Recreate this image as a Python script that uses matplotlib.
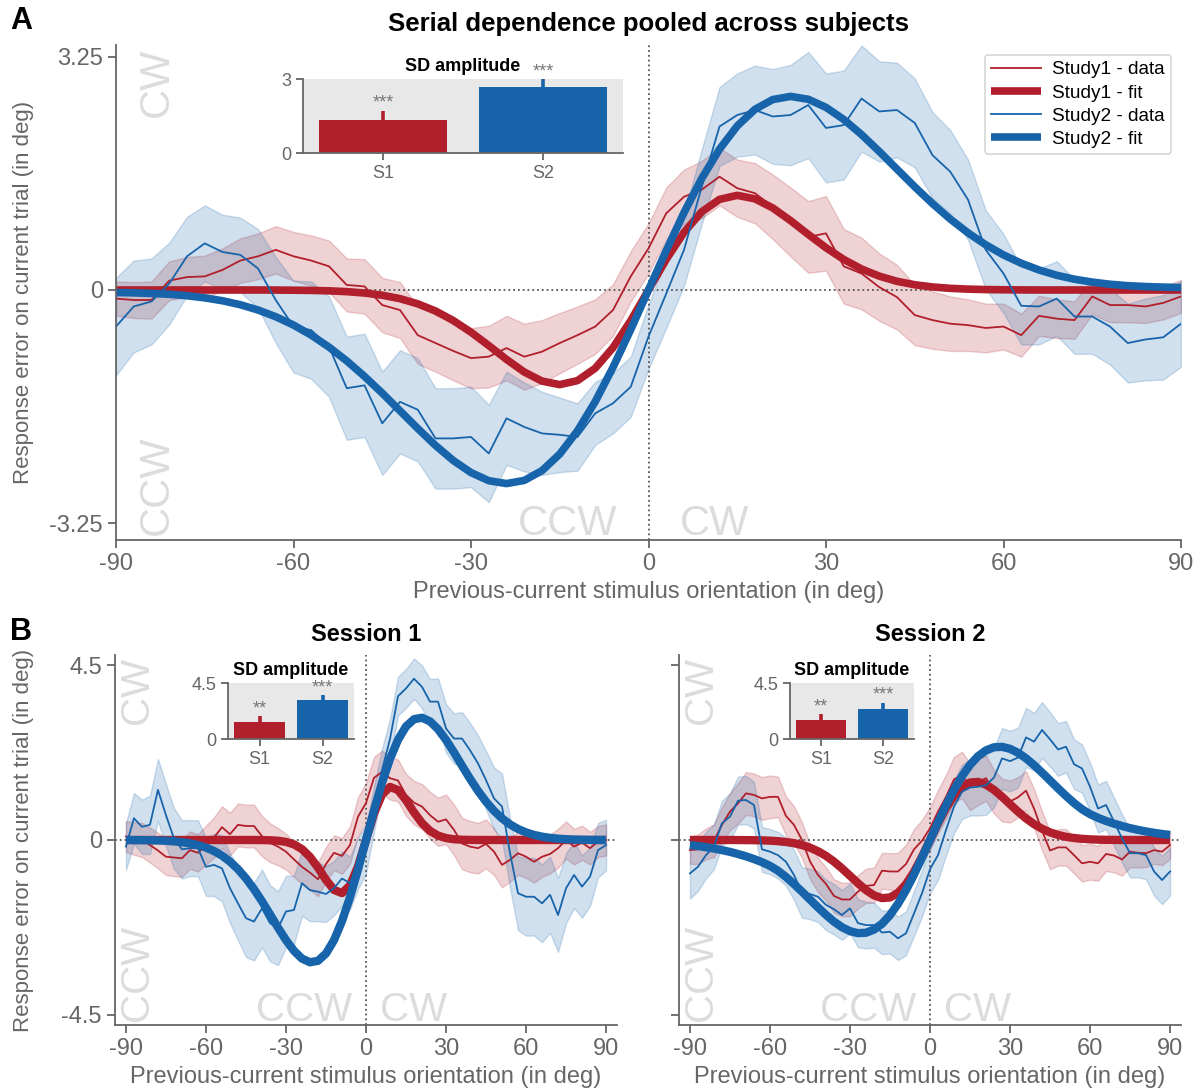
import numpy as np
import matplotlib
matplotlib.use('Agg')
from matplotlib import pyplot as plt

plt.rcParams['font.family'] = ['Liberation Sans', 'DejaVu Sans']
plt.rcParams['axes.unicode_minus'] = False

RED = '#b01f2b'
BLUE = '#1764ab'
GREY = '#666666'
MARK = '#dcdcdc'
W, H = 1200, 1091

# previous-current orientation difference (deg), 3 deg steps
orient = np.arange(-90, 91, 3)

# ---------------- panel A: pooled across subjects ----------------
a_red_data = np.array([
    -0.12, -0.14, -0.14, 0.13, 0.18, 0.19, 0.28, 0.41, 0.47, 0.56, 0.47, 0.41, 0.33, 0.07, 0.05,
    -0.21, -0.28, -0.63, -0.74, -0.85, -0.95, -0.93, -0.81, -0.93, -0.86, -0.74, -0.63, -0.51, -0.28, 0.19,
    0.58, 1.07, 1.30, 1.40, 1.58, 1.42, 1.35, 1.16, 0.95, 0.74, 0.79, 0.33, 0.23, 0.04, -0.10, -0.35,
    -0.42, -0.47, -0.49, -0.53, -0.51, -0.63, -0.36, -0.40, -0.42, -0.09, -0.21, -0.21, -0.23, -0.18, -0.09])
a_red_sem = np.array([
    0.24, 0.25, 0.26, 0.27, 0.28, 0.29, 0.30, 0.31, 0.32, 0.33, 0.34, 0.35, 0.36, 0.37, 0.38,
    0.38, 0.39, 0.40, 0.40, 0.41, 0.42, 0.43, 0.45, 0.46, 0.44, 0.42, 0.40, 0.38, 0.36, 0.35,
    0.35, 0.36, 0.38, 0.40, 0.40, 0.40, 0.42, 0.45, 0.48, 0.50, 0.52, 0.52, 0.50, 0.47, 0.45, 0.42,
    0.40, 0.38, 0.36, 0.34, 0.32, 0.30, 0.28, 0.27, 0.26, 0.25, 0.24, 0.24, 0.23, 0.23, 0.23])
a_red_fit = np.array([
    0, 0, 0, 0, 0, 0, 0, 0, 0, -0.001, -0.003, -0.006, -0.012, -0.023, -0.042,
    -0.073, -0.121, -0.193, -0.293, -0.426, -0.589, -0.775, -0.968, -1.144, -1.271, -1.320, -1.264, -1.091, -0.804, -0.427,
    0, 0.427, 0.804, 1.091, 1.264, 1.320, 1.271, 1.144, 0.968, 0.775, 0.589, 0.426, 0.293, 0.193, 0.121, 0.073,
    0.042, 0.023, 0.012, 0.006, 0.003, 0.001, 0, 0, 0, 0, 0, 0, 0, 0, 0])
a_blue_data = np.array([
    -0.51, -0.23, -0.16, 0.09, 0.47, 0.65, 0.53, 0.49, 0.30, -0.14, -0.51, -0.56, -0.79, -1.37, -1.33,
    -1.86, -1.56, -1.67, -2.07, -2.07, -2.05, -2.28, -1.79, -1.91, -2.00, -2.02, -2.05, -1.72, -1.58, -1.35,
    -0.65, -0.05, 0.56, 1.44, 2.28, 2.44, 2.51, 2.42, 2.44, 2.58, 2.26, 2.30, 2.67, 2.49, 2.51, 2.33,
    1.88, 1.65, 1.26, 0.56, 0.23, -0.22, -0.23, -0.12, -0.37, -0.37, -0.51, -0.74, -0.69, -0.66, -0.47])
a_blue_sem = np.array([
    0.68, 0.64, 0.60, 0.57, 0.55, 0.53, 0.52, 0.52, 0.55, 0.60, 0.64, 0.68, 0.70, 0.72, 0.72,
    0.72, 0.72, 0.72, 0.70, 0.70, 0.70, 0.68, 0.65, 0.62, 0.58, 0.52, 0.47, 0.44, 0.42, 0.42,
    0.45, 0.48, 0.50, 0.52, 0.55, 0.58, 0.62, 0.66, 0.70, 0.74, 0.76, 0.76, 0.74, 0.70, 0.66, 0.62,
    0.60, 0.58, 0.56, 0.55, 0.55, 0.54, 0.53, 0.52, 0.52, 0.52, 0.53, 0.55, 0.57, 0.59, 0.60])
a_blue_fit = np.array([
    -0.035, -0.040, -0.048, -0.060, -0.080, -0.110, -0.150, -0.205, -0.279, -0.373, -0.489, -0.630, -0.797, -0.989, -1.205,
    -1.439, -1.685, -1.932, -2.168, -2.378, -2.547, -2.660, -2.700, -2.656, -2.520, -2.288, -1.964, -1.556, -1.079, -0.552,
    0, 0.552, 1.079, 1.556, 1.964, 2.288, 2.520, 2.656, 2.700, 2.660, 2.547, 2.378, 2.168, 1.932, 1.685, 1.439,
    1.205, 0.989, 0.797, 0.630, 0.489, 0.373, 0.279, 0.205, 0.150, 0.110, 0.080, 0.060, 0.048, 0.040, 0.035])

# ---------------- panel B: session 1 ----------------
b1_red_data = np.array([
    0.09, 0.04, 0.00, -0.13, -0.27, -0.43, -0.45, -0.47, -0.26, -0.33, -0.13, 0.06, 0.33, 0.15, 0.39,
    0.36, 0.36, 0.10, -0.07, -0.17, -0.30, -0.50, -0.69, -0.84, -1.01, -0.62, -0.33, -0.41, -0.13, 0.60,
    0.95, 1.60, 1.75, 1.59, 1.53, 1.16, 0.96, 0.86, 0.64, 0.47, 0.53, 0.26, -0.09, -0.17, -0.21, -0.10,
    -0.30, -0.64, -0.51, -0.34, -0.43, -0.56, -0.43, -0.36, -0.21, 0.00, -0.17, -0.07, -0.21, -0.04, 0.00])
b1_red_sem = np.array([
    0.40, 0.42, 0.44, 0.45, 0.46, 0.47, 0.48, 0.48, 0.48, 0.48, 0.50, 0.52, 0.54, 0.55, 0.55,
    0.55, 0.55, 0.52, 0.50, 0.48, 0.46, 0.45, 0.45, 0.44, 0.44, 0.44, 0.45, 0.46, 0.48, 0.50,
    0.52, 0.54, 0.55, 0.55, 0.54, 0.54, 0.56, 0.58, 0.60, 0.62, 0.64, 0.65, 0.66, 0.66, 0.65, 0.63,
    0.60, 0.58, 0.56, 0.55, 0.55, 0.54, 0.52, 0.50, 0.50, 0.48, 0.46, 0.44, 0.42, 0.40, 0.40])
b1_red_fit = np.array([
    0, 0, 0, 0, 0, 0, 0, 0, 0, 0, 0, 0, 0, 0, 0,
    0, 0, -0.002, -0.007, -0.019, -0.049, -0.113, -0.235, -0.434, -0.711, -1.025, -1.285, -1.366, -1.169, -0.679,
    0, 0.679, 1.169, 1.366, 1.285, 1.025, 0.711, 0.434, 0.235, 0.113, 0.049, 0.019, 0.007, 0.002, 0, 0,
    0, 0, 0, 0, 0, 0, 0, 0, 0, 0, 0, 0, 0, 0, 0])
b1_blue_data = np.array([
    -0.17, 0.56, 0.34, 0.39, 1.29, 0.64, 0.04, -0.24, -0.21, -0.21, -0.69, -0.64, -0.73, -1.24, -1.63,
    -2.01, -2.10, -1.76, -2.14, -2.27, -1.84, -1.80, -1.11, -1.29, -1.33, -1.39, -1.24, -0.99, -1.11, -0.60,
    -0.25, 0.80, 1.80, 2.60, 3.70, 3.90, 4.15, 3.94, 3.56, 3.56, 2.87, 2.61, 2.61, 2.31, 1.97, 1.54,
    1.07, 0.86, -0.34, -1.37, -1.46, -1.46, -1.63, -1.41, -1.93, -1.24, -0.90, -1.20, -0.94, -0.26, -0.13])
b1_blue_sem = np.array([
    0.60, 0.65, 0.70, 0.75, 0.80, 0.80, 0.78, 0.75, 0.72, 0.72, 0.75, 0.80, 0.85, 0.90, 0.95,
    1.00, 1.00, 1.00, 0.98, 0.95, 0.92, 0.88, 0.84, 0.80, 0.76, 0.72, 0.70, 0.70, 0.68, 0.66,
    0.62, 0.58, 0.55, 0.52, 0.50, 0.50, 0.52, 0.55, 0.58, 0.60, 0.62, 0.65, 0.68, 0.70, 0.72, 0.75,
    0.80, 0.85, 0.90, 0.95, 1.00, 1.00, 1.00, 0.98, 0.95, 0.90, 0.85, 0.80, 0.75, 0.70, 0.65])
b1_blue_fit = np.array([
    -0.001, -0.002, -0.004, -0.007, -0.012, -0.021, -0.034, -0.055, -0.086, -0.131, -0.195, -0.283, -0.401, -0.556, -0.750,
    -0.987, -1.264, -1.576, -1.911, -2.253, -2.575, -2.852, -3.052, -3.146, -3.108, -2.921, -2.578, -2.087, -1.470, -0.759,
    0, 0.759, 1.470, 2.087, 2.578, 2.921, 3.108, 3.146, 3.052, 2.852, 2.575, 2.253, 1.911, 1.576, 1.264, 0.987,
    0.750, 0.556, 0.401, 0.283, 0.195, 0.131, 0.086, 0.055, 0.034, 0.021, 0.012, 0.007, 0.004, 0.002, 0.001])

# ---------------- panel B: session 2 ----------------
b2_red_data = np.array([
    -0.26, -0.24, -0.10, -0.02, 0.39, 0.73, 0.94, 1.20, 1.16, 1.07, 1.11, 1.11, 0.62, 0.39, 0.00,
    -0.55, -0.90, -1.13, -1.44, -1.53, -1.53, -1.33, -1.18, -1.16, -0.79, -0.81, -0.81, -0.62, -0.24, -0.02,
    0.30, 0.73, 1.11, 1.56, 1.67, 1.37, 1.50, 1.59, 1.24, 1.03, 0.99, 1.10, 1.27, 0.81, 0.24, -0.27,
    -0.19, -0.19, -0.39, -0.60, -0.56, -0.60, -0.36, -0.40, -0.50, -0.30, -0.33, -0.34, -0.26, -0.30, -0.13])
b2_red_sem = np.array([
    0.35, 0.38, 0.40, 0.42, 0.45, 0.48, 0.52, 0.55, 0.55, 0.55, 0.55, 0.52, 0.50, 0.48, 0.46,
    0.45, 0.44, 0.43, 0.43, 0.43, 0.43, 0.43, 0.44, 0.45, 0.46, 0.47, 0.48, 0.50, 0.52, 0.54,
    0.55, 0.56, 0.57, 0.58, 0.60, 0.60, 0.60, 0.58, 0.56, 0.55, 0.54, 0.52, 0.50, 0.50, 0.50, 0.48,
    0.47, 0.47, 0.47, 0.47, 0.46, 0.45, 0.44, 0.43, 0.42, 0.40, 0.38, 0.36, 0.35, 0.35, 0.35])
b2_red_fit = np.array([
    0, 0, 0, 0, 0, 0, -0.001, -0.003, -0.005, -0.009, -0.017, -0.030, -0.051, -0.082, -0.130,
    -0.197, -0.289, -0.408, -0.556, -0.730, -0.920, -1.113, -1.289, -1.424, -1.495, -1.479, -1.361, -1.138, -0.820, -0.430,
    0, 0.430, 0.820, 1.138, 1.361, 1.479, 1.495, 1.424, 1.289, 1.113, 0.920, 0.730, 0.556, 0.408, 0.289, 0.197,
    0.130, 0.082, 0.051, 0.030, 0.017, 0.009, 0.005, 0.003, 0.001, 0, 0, 0, 0, 0, 0])
b2_blue_data = np.array([
    -0.86, -0.69, -0.39, -0.17, 0.43, 0.60, 1.01, 1.03, 0.90, -0.24, -0.30, -0.39, -0.56, -0.90, -1.35,
    -1.39, -1.46, -1.67, -1.78, -1.93, -1.76, -2.14, -2.19, -2.19, -2.38, -2.36, -2.53, -2.40, -1.89, -1.37,
    -0.75, -0.39, 0.26, 0.86, 1.24, 1.35, 1.37, 1.41, 1.61, 2.10, 2.03, 2.12, 2.64, 2.53, 2.83, 2.59,
    2.33, 2.40, 1.95, 1.84, 1.37, 0.81, 0.90, 0.47, 0.04, -0.34, -0.34, -0.39, -0.81, -1.03, -0.81])
b2_blue_sem = np.array([
    0.65, 0.62, 0.60, 0.58, 0.58, 0.60, 0.62, 0.62, 0.60, 0.58, 0.58, 0.60, 0.62, 0.64, 0.65,
    0.65, 0.65, 0.65, 0.65, 0.64, 0.64, 0.62, 0.60, 0.58, 0.56, 0.56, 0.56, 0.56, 0.58, 0.60,
    0.62, 0.64, 0.66, 0.68, 0.70, 0.72, 0.74, 0.76, 0.77, 0.78, 0.78, 0.77, 0.76, 0.74, 0.72, 0.70,
    0.68, 0.66, 0.64, 0.62, 0.62, 0.62, 0.62, 0.62, 0.62, 0.62, 0.62, 0.62, 0.62, 0.62, 0.62])
b2_blue_fit = np.array([
    -0.130, -0.155, -0.185, -0.220, -0.260, -0.305, -0.360, -0.420, -0.490, -0.570, -0.665, -0.790, -0.951, -1.134, -1.329,
    -1.532, -1.734, -1.927, -2.101, -2.244, -2.346, -2.397, -2.386, -2.306, -2.156, -1.933, -1.642, -1.290, -0.889, -0.454,
    0, 0.454, 0.889, 1.290, 1.642, 1.933, 2.156, 2.306, 2.386, 2.397, 2.346, 2.244, 2.101, 1.927, 1.734, 1.532,
    1.329, 1.134, 0.951, 0.790, 0.665, 0.570, 0.490, 0.420, 0.360, 0.305, 0.260, 0.220, 0.185, 0.155, 0.130])

# SD amplitude insets: [S1, S2]
inset_labels = ['S1', 'S2']
a_amp, a_err, a_stars = [1.34, 2.68], [0.38, 0.32], ['***', '***']
b1_amp, b1_err, b1_stars = [1.37, 3.14], [0.51, 0.38], ['**', '***']
b2_amp, b2_err, b2_stars = [1.53, 2.42], [0.49, 0.51], ['**', '***']


def px_rect(l, t, r, b):
    return [l / W, 1 - b / H, (r - l) / W, (b - t) / H]


def style_axes(ax, xlim, ylim, yticks, yticklabels):
    ax.set_xlim(xlim)
    ax.set_ylim(ylim)
    ax.spines[['top', 'right']].set_visible(False)
    for s in ('left', 'bottom'):
        ax.spines[s].set_color(GREY)
        ax.spines[s].set_linewidth(1.3)
    ax.set_xticks(np.arange(-90, 91, 30))
    ax.set_yticks(yticks)
    ax.set_yticklabels(yticklabels)
    ax.tick_params(direction='out', length=6, width=1.3, colors=GREY, labelsize=17)
    ax.axhline(0, color='#555555', ls=':', lw=1.3, zorder=1.5)
    ax.axvline(0, color='#555555', ls=':', lw=1.3, zorder=1.5)
    ax.set_xlabel('Previous-current stimulus orientation (in deg)', fontsize=17, color=GREY)
    ax.set_ylabel('Response error on current trial (in deg)', fontsize=16, color=GREY)


def draw_curves(ax, series, fit_lw):
    for data, sem, fit, color, name in series:
        ax.fill_between(orient, data - sem, data + sem, color=color, alpha=0.2, lw=1)
        ax.plot(orient, data, color=color, lw=1.3, label=name + ' - data')
        ax.plot(orient, fit, color=color, lw=fit_lw, solid_capstyle='butt', label=name + ' - fit')


def watermarks(ax, xoff, fs, vx):
    tr = ax.get_xaxis_transform()
    ax.text(-xoff, 0.01, 'CCW', transform=tr, ha='right', va='baseline', fontsize=fs, color=MARK, zorder=0)
    ax.text(xoff, 0.01, 'CW', transform=tr, ha='left', va='baseline', fontsize=fs, color=MARK, zorder=0)
    ax.text(vx, 0.995, 'CW', transform=ax.transAxes, rotation=90, ha='left', va='top', fontsize=fs, color=MARK, zorder=0)
    ax.text(vx, 0.01, 'CCW', transform=ax.transAxes, rotation=90, ha='left', va='bottom', fontsize=fs, color=MARK, zorder=0)


def draw_inset(rect, amps, errs, stars, ymax, ylab):
    ins = fig.add_axes(rect)
    ins.set_facecolor('#e8e8e8')
    xs = np.arange(len(amps))
    amps = np.array(amps)
    errs = np.array(errs)
    ins.bar(xs, amps, width=0.8, color=[RED, BLUE], zorder=2)
    ins.vlines(xs, amps, amps + errs, colors=[RED, BLUE], lw=2.6, zorder=2)
    for i in xs:
        ins.annotate(stars[i], (i, amps[i] + errs[i]), xytext=(0, -1), textcoords='offset points',
                     ha='center', va='bottom', color='#777777', fontsize=13)
    ins.set_xlim(-0.5, 1.5)
    ins.set_ylim(0, ymax)
    ins.set_xticks(xs)
    ins.set_xticklabels(inset_labels)
    ins.set_yticks([0, ymax])
    ins.set_yticklabels(['0', ylab])
    ins.spines[['top', 'right']].set_visible(False)
    for s in ('left', 'bottom'):
        ins.spines[s].set_color(GREY)
        ins.spines[s].set_linewidth(1.3)
    ins.tick_params(direction='out', length=5, width=1.3, colors=GREY, labelsize=13)
    ins.set_title('SD amplitude', fontsize=13, fontweight='bold', pad=6)


fig = plt.figure(figsize=(W / 100, H / 100), dpi=100)

# panel A
axA = fig.add_axes(px_rect(116, 45, 1181, 540))
watermarks(axA, 5.3, 30, 0.02)
draw_curves(axA, [(a_red_data, a_red_sem, a_red_fit, RED, 'Study1'),
                  (a_blue_data, a_blue_sem, a_blue_fit, BLUE, 'Study2')], 5.5)
style_axes(axA, (-90, 90), (-3.487, 3.417), [-3.25, 0, 3.25], ['-3.25', '0', '3.25'])
axA.yaxis.set_label_coords(-0.077, 0.5)
axA.set_title('Serial dependence pooled across subjects', fontsize=18.5, fontweight='bold', pad=10)
leg = axA.legend(loc='upper right', fontsize=13.7, handlelength=2.6, labelspacing=0.3,
                 borderpad=0.35, handletextpad=0.6, frameon=True, fancybox=True)
leg.get_frame().set_edgecolor('#cccccc')
leg.get_frame().set_linewidth(1.2)
draw_inset(px_rect(303, 79, 623, 153), a_amp, a_err, a_stars, 3, '3')

# panel B
axB1 = fig.add_axes(px_rect(115, 655, 617, 1025))
watermarks(axB1, 5.2, 29, 0.005)
draw_curves(axB1, [(b1_red_data, b1_red_sem, b1_red_fit, RED, 'Study1'),
                   (b1_blue_data, b1_blue_sem, b1_blue_fit, BLUE, 'Study2')], 6)
style_axes(axB1, (-94.1, 94.1), (-4.76, 4.76), [-4.5, 0, 4.5], ['-4.5', '0', '4.5'])
axB1.yaxis.set_label_coords(-0.162, 0.5)
axB1.set_title('Session 1', fontsize=17, fontweight='bold', pad=10)
draw_inset(px_rect(228, 683, 354, 739), b1_amp, b1_err, b1_stars, 4.5, '4.5')

axB2 = fig.add_axes(px_rect(679, 655, 1181, 1025))
watermarks(axB2, 5.2, 29, 0.005)
draw_curves(axB2, [(b2_red_data, b2_red_sem, b2_red_fit, RED, 'Study1'),
                   (b2_blue_data, b2_blue_sem, b2_blue_fit, BLUE, 'Study2')], 6)
style_axes(axB2, (-94.1, 94.1), (-4.76, 4.76), [-4.5, 0, 4.5], ['', '', ''])
axB2.set_ylabel('')
axB2.set_title('Session 2', fontsize=17, fontweight='bold', pad=10)
draw_inset(px_rect(790, 683, 914, 739), b2_amp, b2_err, b2_stars, 4.5, '4.5')

fig.text(10 / W, 1 - 6 / H, 'A', fontsize=22, fontweight='bold', va='top', ha='left')
fig.text(10 / W, 1 - 617 / H, 'B', fontsize=22, fontweight='bold', va='top', ha='left')

fig.savefig('out.png', dpi=100)
